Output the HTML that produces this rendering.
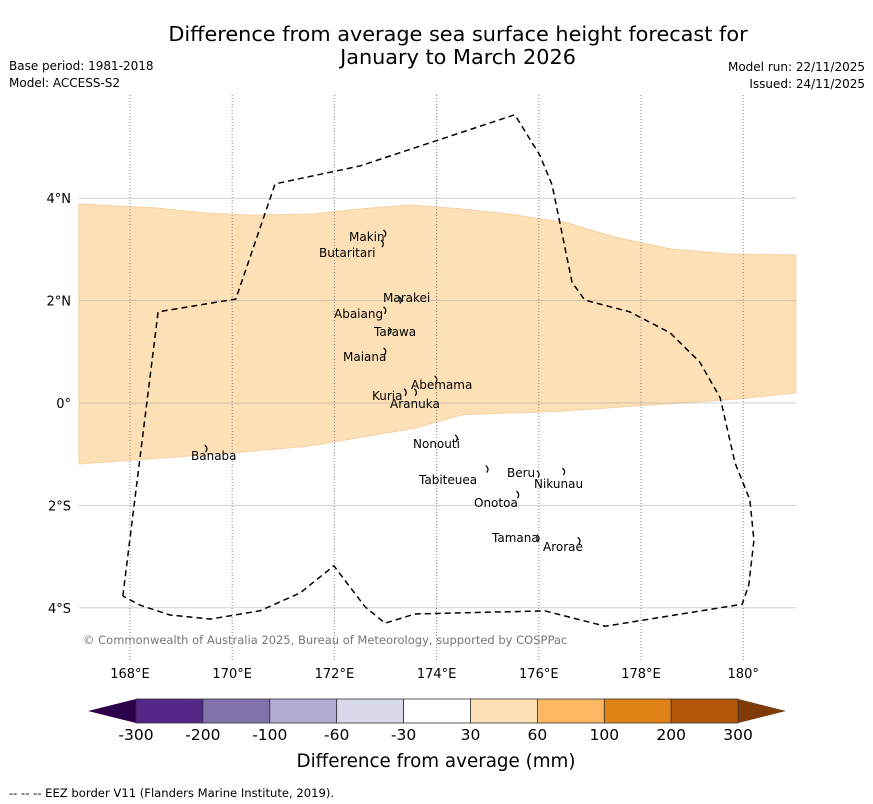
<!DOCTYPE html>
<html><head><meta charset="utf-8"><style>
body{margin:0;background:#fff;font-family:"Liberation Sans","DejaVu Sans",sans-serif;}
svg{display:block}
</style></head><body>
<svg id="c" width="873" height="804" xmlns="http://www.w3.org/2000/svg" font-family="DejaVu Sans, Liberation Sans, sans-serif">
<text x="458" y="41" font-size="20.8" text-anchor="middle">Difference from average sea surface height forecast for</text>
<text x="458" y="64" font-size="20.8" text-anchor="middle">January to March 2026</text>
<text x="9" y="70" font-size="12">Base period: 1981-2018</text>
<text x="9" y="87" font-size="12">Model: ACCESS-S2</text>
<text x="865" y="71" font-size="12" text-anchor="end">Model run: 22/11/2025</text>
<text x="865" y="88" font-size="12" text-anchor="end">Issued: 24/11/2025</text>
<g id="map"></g>
<g id="cbar"></g>
<text x="436" y="767" font-size="18.3" text-anchor="middle">Difference from average (mm)</text>
<text x="9" y="797" font-size="11.6">--  --  -- EEZ border V11 (Flanders Marine Institute, 2019).</text>
</svg>
<script>
const lonTicks=[168,170,172,174,176,178,180];
const lonLabels=["168°E","170°E","172°E","174°E","176°E","178°E","180°"];
const latTicks=[4,2,0,-2,-4];
const latLabels=["4°N","2°N","0°","2°S","4°S"];
const bandTopLon=[167.0,168.49,169.51,170.35,171.52,172.5,173.48,174.5,175.44,176.55,177.49,178.57,179.74,181.03];
const bandTopLat=[3.89,3.81,3.71,3.67,3.69,3.79,3.87,3.79,3.69,3.52,3.24,3.01,2.91,2.89];
const bandBotLon=[181.03,179.93,178.76,177.59,176.41,174.5,173.58,171.52,169.96,167.0];
const bandBotLat=[0.2,0.08,0.0,-0.08,-0.16,-0.23,-0.49,-0.84,-0.98,-1.19];
const eezLon=[167.86,168.55,170.07,170.84,172.5,175.53,176.02,176.26,176.65,176.9,177.78,178.57,179.15,179.55,179.84,180.13,180.21,180.11,179.98,177.3,176.12,173.58,172.99,172.6,171.99,171.33,170.54,169.57,168.78,168.2,167.86];
const eezLat=[-3.77,1.78,2.03,4.28,4.63,5.63,4.84,4.26,2.36,2.01,1.78,1.37,0.8,0.1,-1.17,-1.89,-2.68,-3.55,-3.93,-4.36,-4.06,-4.12,-4.3,-3.98,-3.18,-3.71,-4.06,-4.22,-4.14,-3.95,-3.77];
const islandNames=["Makin","Butaritari","Marakei","Abaiang","Tarawa","Maiana","Abemama","Kuria","Aranuka","Banaba","Nonouti","Tabiteuea","Beru","Nikunau","Onotoa","Tamana","Arorae"];
const islandLon=[173.0,172.95,173.3,173.0,173.1,173.0,174.0,173.4,173.6,169.5,174.4,175.0,176.0,176.5,175.6,176.0,176.8];
const islandLat=[3.3,3.1,2.0,1.8,1.4,1.0,0.45,0.2,0.2,-0.9,-0.7,-1.3,-1.4,-1.35,-1.8,-2.65,-2.7];
const labelX=[349,319,383,334,374,343,411,372,390,191,413,419,507,534,474,492,543];
const labelY=[241,257,302,318,336,361,389,400,408,460,448,484,477,488,507,542,551];
const cbBounds=["-300","-200","-100","-60","-30","30","60","100","200","300"];
const cbColors=["#542788","#8073ac","#b2abd2","#d8daeb","#ffffff","#fee0b6","#fdb863","#e08214","#b35806"];

const X0=79,X1=796,Y0=95,Y1=660;
const x=lon=>130+(lon-168)*51.1;
const y=lat=>403-lat*51.2;
const NS="http://www.w3.org/2000/svg";
function mk(tag,a,parent){const e=document.createElementNS(NS,tag);for(const k in a)e.setAttribute(k,a[k]);parent.appendChild(e);return e;}
const map=document.getElementById('map');
let pts=bandTopLon.map((l,i)=>x(l)+','+y(bandTopLat[i])).concat(bandBotLon.map((l,i)=>x(l)+','+y(bandBotLat[i])));
const band=mk('polygon',{points:pts.join(' '),fill:'#fee0b6',stroke:'#f5d2a6','stroke-width':1},map);


latTicks.forEach((t,i)=>{
 const l=mk('line',{x1:X0,x2:X1,y1:y(t),y2:y(t),stroke:'#999','stroke-opacity':0.45,'stroke-width':1},map);
 
 
 const tx=mk('text',{x:71,y:y(t)+5,'font-size':13,'text-anchor':'end'},map);tx.textContent=latLabels[i];
 
 
});
lonTicks.forEach((t,i)=>{
 const l=mk('line',{x1:x(t),x2:x(t),y1:Y0,y2:Y1,stroke:'#888','stroke-width':1,'stroke-dasharray':'1,2'},map);
 
 
 const tx=mk('text',{x:x(t),y:678,'font-size':13,'text-anchor':'middle'},map);tx.textContent=lonLabels[i];
 
 
});
const eez=mk('polyline',{points:eezLon.map((l,i)=>x(l)+','+y(eezLat[i])).join(' '),fill:'none',stroke:'#000','stroke-width':1.5,'stroke-dasharray':'6,4'},map);


islandNames.forEach((n,i)=>{
 const px=x(islandLon[i]),py=y(islandLat[i]);
 const m=mk('path',{d:`M${px-2},${py-4} q4,3 1,7`,fill:'none',stroke:'#000','stroke-width':1.2},map);
 
 
 const t=mk('text',{x:labelX[i],y:labelY[i],'font-size':12},map);t.textContent=n;
 
 
});
const cp=mk('text',{x:83,y:644,'font-size':11.5,fill:'#777'},map);cp.textContent='© Commonwealth of Australia 2025, Bureau of Meteorology, supported by COSPPac';


const cb=document.getElementById('cbar');
const cbX0=136,cbW=66.9,cbY=699,cbH=24;
const lt=mk('polygon',{points:`88,711 ${cbX0},${cbY} ${cbX0},${cbY+cbH}`,fill:'#2d004b'},cb);


const rt=mk('polygon',{points:`786,711 ${cbX0+9*cbW},${cbY} ${cbX0+9*cbW},${cbY+cbH}`,fill:'#7f3b08'},cb);


cbColors.forEach((c,i)=>{
 const r=mk('rect',{x:cbX0+i*cbW,y:cbY,width:cbW,height:cbH,fill:c,stroke:'#333','stroke-width':0.8},cb);
 
 
});
cbBounds.forEach((b,i)=>{
 const t=mk('text',{x:cbX0+i*cbW,y:740,'font-size':15.5,'text-anchor':'middle'},cb);t.textContent=b;
 
 
});
</script>
</body></html>
